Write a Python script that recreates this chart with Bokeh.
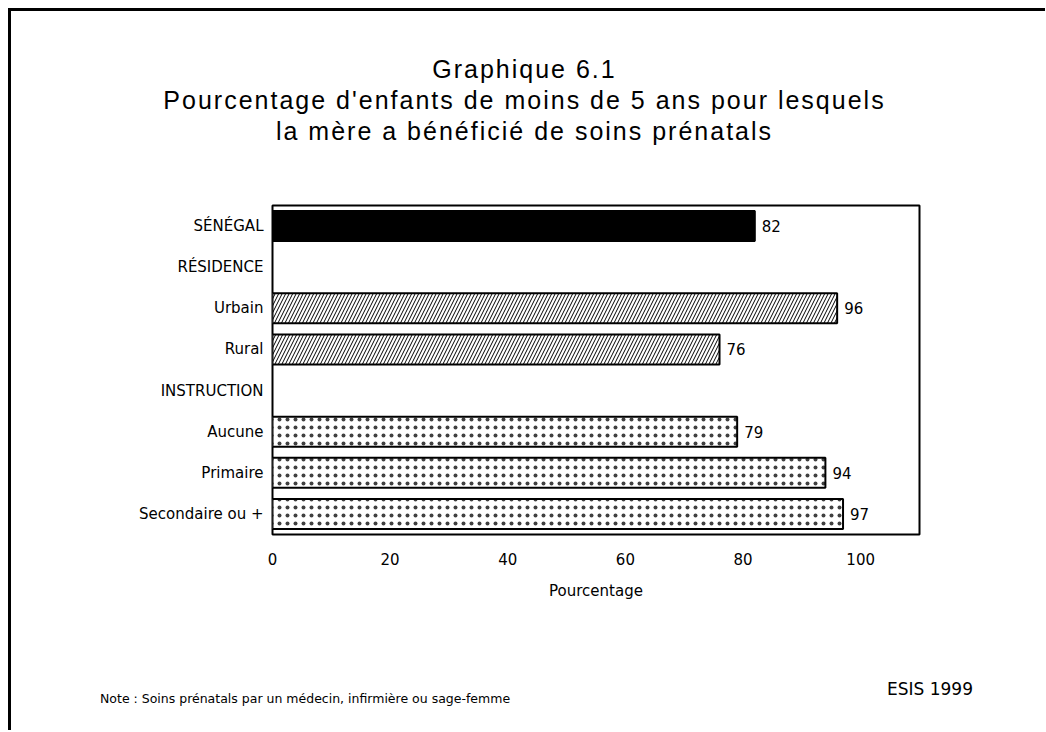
from bokeh.plotting import figure
from bokeh.models import FactorRange, ColumnDataSource, FixedTicker, Div
from bokeh.layouts import column
from bokeh.embed import file_html
from bokeh.resources import INLINE
from bokeh.core.properties import value

# ---- data ----
categories = ["SÉNÉGAL", "RÉSIDENCE", "Urbain", "Rural", "INSTRUCTION",
              "Aucune", "Primaire", "Secondaire ou +"]
values = [82, None, 96, 76, None, 79, 94, 97]
groups = ["total", None, "residence", "residence", None,
          "instruction", "instruction", "instruction"]
x_ticks = [0, 20, 40, 60, 80, 100]
title_lines = ["Graphique 6.1",
               "Pourcentage d'enfants de moins de 5 ans pour lesquels",
               "la mère a bénéficié de soins prénatals"]
note_text = "Note : Soins prénatals par un médecin, infirmière ou sage-femme"
source_text = "ESIS 1999"
x_label = "Pourcentage"

TITLE_FONT = "'Liberation Sans', Arial, sans-serif"
FONT = "DejaVu Sans"
W = 1034          # content width (inside the 3px left border)
TITLE_H = 140
FIG_H = 469
FOOT_H = 110

# ---- title block ----
title_div = Div(
    width=W, height=TITLE_H, margin=0,
    text=('<div style="width:1027px; text-align:center; font-family:%s; '
          'font-size:25px; letter-spacing:2px; line-height:31px; '
          'margin-top:43px; color:black; white-space:nowrap;">%s</div>'
          % (TITLE_FONT, "<br>".join(title_lines))))

# ---- chart ----
p = figure(width=W, height=FIG_H, output_backend="svg", toolbar_location=None,
           y_range=FactorRange(factors=list(reversed(categories))),
           x_range=(0, 110), margin=0,
           min_border_left=261, min_border_right=W - 261 - 647,
           min_border_top=54, min_border_bottom=FIG_H - 54 - 329)

p.grid.visible = False
p.outline_line_color = "black"
p.outline_line_width = 2
p.background_fill_color = "white"
p.border_fill_color = "white"

styles = {
    "total": dict(fill_color="black"),
    "residence": dict(fill_color="white", hatch_pattern="right_diagonal_line",
                      hatch_color="black", hatch_scale=7, hatch_weight=1),
    "instruction": dict(fill_color="white", hatch_pattern="dot",
                        hatch_color="black", hatch_scale=8, hatch_weight=0.2,
                        hatch_alpha=0.75),
}

for g in ["total", "residence", "instruction"]:
    cats = [c for c, v, gg in zip(categories, values, groups) if gg == g and v is not None]
    vals = [v for c, v, gg in zip(categories, values, groups) if gg == g and v is not None]
    src = ColumnDataSource(dict(y=cats, right=vals, lab=[str(v) for v in vals]))
    p.hbar(y="y", left=0, right="right", height=0.73, source=src,
           line_color="black", line_width=2, **styles[g])
    p.text(x="right", y="y", text="lab", source=src, x_offset=7,
           text_font=value(FONT), text_font_size="15px",
           text_baseline="middle", text_align="left", text_color="black")

# axes
p.xaxis.ticker = FixedTicker(ticks=x_ticks)
p.xaxis.axis_line_color = None
p.xaxis.major_tick_line_color = None
p.xaxis.minor_tick_line_color = None
p.xaxis.major_label_standoff = 12
p.xaxis.major_label_text_font = FONT
p.xaxis.major_label_text_font_size = "15px"
p.xaxis.major_label_text_color = "black"
p.xaxis.axis_label = x_label
p.xaxis.axis_label_text_font = FONT
p.xaxis.axis_label_text_font_size = "15px"
p.xaxis.axis_label_text_font_style = "normal"
p.xaxis.axis_label_standoff = 14
p.xaxis.axis_label_text_color = "black"

p.yaxis.axis_line_color = None
p.yaxis.major_tick_line_color = None
p.yaxis.minor_tick_line_color = None
p.yaxis.major_label_standoff = 3
p.yaxis.major_label_text_font = FONT
p.yaxis.major_label_text_font_size = "15px"
p.yaxis.major_label_text_color = "black"

# ---- footer ----
foot_div = Div(
    width=W, height=FOOT_H, margin=0,
    text=('<div style="position:relative; width:%dpx; height:%dpx; color:black; '
          'font-family:\'%s\';">'
          '<span style="position:absolute; left:89px; top:72px; font-size:12.5px; '
          'line-height:14px; white-space:nowrap;">%s</span>'
          '<span style="position:absolute; left:876px; top:59px; font-size:17px; '
          'line-height:20px; white-space:nowrap;">%s</span></div>'
          % (W, FOOT_H, FONT, note_text, source_text)))

layout = column(title_div, p, foot_div, spacing=0, margin=0)
layout.styles = {"margin-left": "8px", "margin-top": "8px",
                 "border-left": "3px solid black", "border-top": "3px solid black",
                 "background-color": "white"}

open("out.html", "w").write(file_html(layout, INLINE))
